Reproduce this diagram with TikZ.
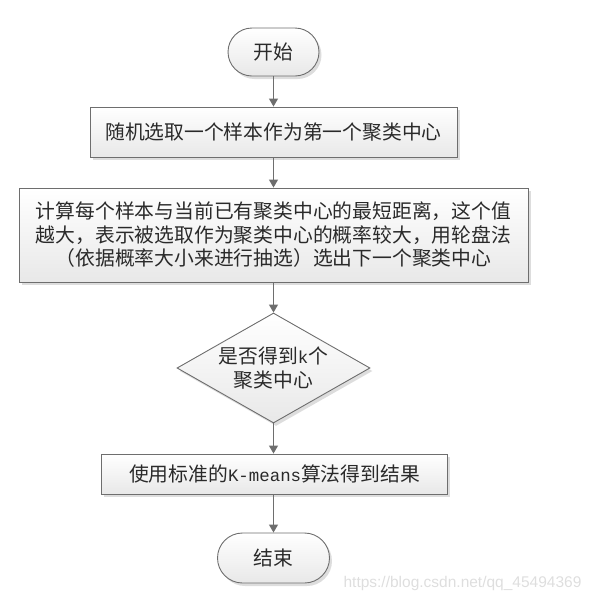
\documentclass[tikz,border=0pt]{standalone}
\usepackage{fontspec}
\setmainfont{Noto Sans CJK SC}
\newfontfamily\monofont{Liberation Mono}[Scale=0.88]
\newfontfamily\wmfont{Liberation Sans}
\usetikzlibrary{shapes.geometric,shapes.misc,shadows,arrows.meta}
\definecolor{edgegray}{HTML}{6E6E6E}
\definecolor{txtgray}{HTML}{2A2A2A}
\tikzset{
  base/.style={draw=edgegray, line width=0.9pt, top color=white, bottom color=black!9,
    drop shadow={shadow xshift=2.5pt, shadow yshift=-3pt, fill=black!22, opacity=0.6},
    inner sep=0pt, text=txtgray, align=center,
    font=\fontsize{19.8pt}{23.5pt}\selectfont},
  stadium/.style={base, rounded rectangle},
  procbox/.style={base, rectangle},
  decision/.style={base, diamond, aspect=1.75},
  flow/.style={draw=edgegray, line width=1.1pt, -{Triangle[width=9pt,length=8pt]}}
}
\begin{document}
\begin{tikzpicture}[x=1pt, y=-1pt]
\useasboundingbox (0,0) rectangle (594,603);
\node[stadium, minimum width=91pt, minimum height=48pt] (start) at (273.5,52) {开始};
\node[procbox, minimum width=367pt, minimum height=50pt] (b1) at (273.5,132) {随机选取一个样本作为第一个聚类中心};
\node[procbox, minimum width=509pt, minimum height=94pt] (b2) at (273.5,235)
  {计算每个样本与当前已有聚类中心的最短距离，这个值\\越大，表示被选取作为聚类中心的概率较大，用轮盘法\\（依据概率大小来进行抽选）选出下一个聚类中心};
\node[decision, minimum width=193pt, minimum height=110pt,
  label={[text=txtgray, align=center, font=\fontsize{19.8pt}{23.5pt}\selectfont]center:是否得到{\monofont k}个\\聚类中心}] (d) at (273.5,368) {};
\node[procbox, minimum width=346pt, minimum height=40pt] (b4) at (274.5,474) {使用标准的{\monofont K-means}算法得到结果};
\node[stadium, minimum width=112pt, minimum height=50pt] (end) at (273.5,558) {结束};
\node[text=black!13, font=\wmfont\fontsize{15.5pt}{18pt}\selectfont, inner sep=0pt] (wm) at (462.5,583) {https://blog.csdn.net/qq\_45494369};
\draw[flow] (start.south) -- (start.south |- b1.north);
\draw[flow] (b1.south -| start.south) -- (start.south |- b2.north);
\draw[flow] (b2.south -| start.south) -- (d.north);
\draw[flow] (d.south) -- (d.south |- b4.north);
\draw[flow] (b4.south -| d.south) -- (d.south |- end.north);
\end{tikzpicture}
\end{document}
